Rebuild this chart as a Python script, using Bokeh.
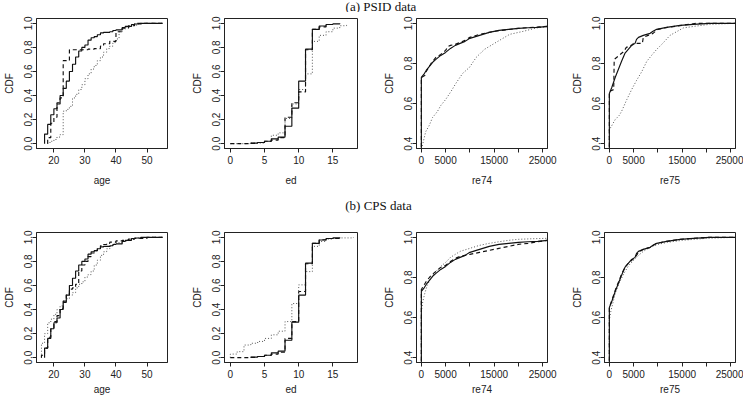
from bokeh.plotting import figure
from bokeh.layouts import column, row
from bokeh.models import FixedTicker, PrintfTickFormatter, Label, Range1d
from bokeh.embed import file_html
from bokeh.resources import INLINE

# ---------------- data (empirical CDFs read from the picture) ----------------
# age
age_trt_x = [17, 18, 19, 20, 21, 22, 23, 24, 25, 26, 27, 28, 29, 30, 31, 32, 33, 34, 35, 36, 38, 39, 40, 42, 43, 45, 46, 48, 55]
age_trt_F = [0.08, 0.16, 0.24, 0.29, 0.33, 0.40, 0.46, 0.52, 0.60, 0.66, 0.72, 0.77, 0.80, 0.82, 0.86, 0.88, 0.89, 0.905, 0.92, 0.925, 0.93, 0.94, 0.945, 0.965, 0.975, 0.99, 0.994, 1.0, 1.0]
age_psidm_x = [18, 19, 20, 21, 22, 23, 25, 31, 33, 35, 36, 38, 40, 42, 44, 46, 55]
age_psidm_F = [0.05, 0.17, 0.22, 0.34, 0.38, 0.69, 0.78, 0.785, 0.79, 0.81, 0.83, 0.85, 0.93, 0.96, 0.98, 1.0, 1.0]
age_psid_x = [18, 19, 20, 21, 22, 23, 24, 25, 26, 27, 28, 29, 30, 31, 32, 33, 34, 35, 36, 37, 38, 39, 40, 41, 42, 43, 45, 47, 49, 55]
age_psid_F = [0.01, 0.02, 0.035, 0.055, 0.075, 0.27, 0.285, 0.31, 0.38, 0.41, 0.45, 0.49, 0.54, 0.58, 0.62, 0.65, 0.69, 0.72, 0.76, 0.79, 0.81, 0.84, 0.87, 0.93, 0.95, 0.97, 0.985, 0.995, 1.0, 1.0]
age_cpsm_x = [16, 17, 18, 19, 20, 21, 22, 23, 24, 25, 26, 27, 28, 29, 30, 31, 32, 33, 34, 35, 36, 37, 38, 40, 42, 44, 46, 50, 55]
age_cpsm_F = [0.02, 0.08, 0.17, 0.24, 0.30, 0.35, 0.41, 0.47, 0.53, 0.57, 0.58, 0.61, 0.72, 0.77, 0.80, 0.84, 0.87, 0.89, 0.91, 0.93, 0.94, 0.95, 0.96, 0.97, 0.975, 0.985, 0.99, 1.0, 1.0]
age_cps_x = [16, 17, 18, 19, 20, 21, 22, 23, 24, 25, 26, 27, 28, 29, 30, 31, 32, 33, 34, 35, 36, 37, 38, 39, 40, 42, 44, 46, 49, 55]
age_cps_F = [0.12, 0.20, 0.29, 0.32, 0.36, 0.40, 0.43, 0.47, 0.49, 0.52, 0.54, 0.58, 0.61, 0.63, 0.67, 0.69, 0.72, 0.77, 0.81, 0.85, 0.88, 0.905, 0.925, 0.945, 0.955, 0.97, 0.985, 0.994, 1.0, 1.0]

# education
ed_trt_x = [3, 4, 5, 6, 7, 8, 9, 10, 11, 12, 13, 14, 15, 16]
ed_trt_F = [0.005, 0.01, 0.02, 0.04, 0.055, 0.145, 0.295, 0.52, 0.785, 0.95, 0.978, 0.99, 0.995, 1.0]
ed_psidm_x = [0, 3, 4, 5, 6, 7, 8, 9, 10, 11, 12, 13, 14, 15]
ed_psidm_F = [0.0, 0.003, 0.01, 0.02, 0.03, 0.05, 0.22, 0.34, 0.43, 0.78, 0.95, 0.97, 0.99, 1.0]
ed_psid_x = [0, 3, 5, 6, 7, 8, 9, 10, 11, 12, 13, 14, 15, 16, 17]
ed_psid_F = [0.0, 0.005, 0.02, 0.07, 0.09, 0.21, 0.33, 0.45, 0.58, 0.85, 0.90, 0.93, 0.96, 0.98, 1.0]
ed_cpsm_x = [0, 3, 4, 5, 6, 7, 8, 9, 10, 11, 12, 13, 14, 16]
ed_cpsm_F = [0.0, 0.003, 0.01, 0.02, 0.03, 0.045, 0.16, 0.30, 0.55, 0.78, 0.95, 0.98, 0.99, 1.0]
ed_cps_x = [0, 1, 2, 3, 4, 5, 6, 7, 8, 9, 10, 11, 12, 13, 14, 15, 16, 18]
ed_cps_F = [0.03, 0.05, 0.105, 0.12, 0.135, 0.16, 0.19, 0.22, 0.30, 0.45, 0.605, 0.715, 0.925, 0.965, 0.985, 0.99, 0.995, 1.0]

# earnings 1974
re74_trt_x = [0, 500, 1000, 1500, 2000, 2500, 3000, 3500, 4000, 5000, 6000, 7000, 8000, 9000, 10000, 12000, 14000, 16000, 18000, 20000, 22000, 24000, 26000]
re74_trt_F = [0.73, 0.745, 0.765, 0.78, 0.795, 0.81, 0.82, 0.83, 0.84, 0.855, 0.875, 0.89, 0.90, 0.91, 0.925, 0.94, 0.955, 0.965, 0.97, 0.975, 0.978, 0.98, 0.985]
re74_psidm_x = [0, 700, 1000, 2000, 3000, 4000, 5000, 5500, 6000, 7000, 9000, 10000, 12000, 15000, 20000, 26000]
re74_psidm_F = [0.73, 0.74, 0.76, 0.80, 0.83, 0.845, 0.865, 0.885, 0.89, 0.895, 0.915, 0.93, 0.945, 0.96, 0.975, 0.985]
re74_psid_x = [0, 300, 900, 1600, 2300, 3300, 4000, 5000, 6100, 7100, 8500, 9900, 11300, 13000, 15400, 18200, 21000, 23700, 26000]
re74_psid_F = [0.37, 0.40, 0.46, 0.49, 0.53, 0.56, 0.59, 0.62, 0.66, 0.70, 0.75, 0.78, 0.83, 0.87, 0.905, 0.945, 0.96, 0.977, 0.983]
re74_cpsm_x = [0, 500, 1000, 2000, 3000, 4000, 5000, 6000, 7000, 8000, 10000, 12000, 14000, 16000, 18000, 20000, 22000, 24000, 26000]
re74_cpsm_F = [0.74, 0.76, 0.78, 0.81, 0.83, 0.85, 0.86, 0.88, 0.895, 0.905, 0.915, 0.925, 0.935, 0.945, 0.955, 0.965, 0.97, 0.978, 0.985]
re74_cps_x = [0, 300, 700, 1200, 2000, 3000, 4000, 5000, 6000, 7000, 8000, 10000, 12000, 14000, 16000, 18000, 20000, 23000, 26000]
re74_cps_F = [0.63, 0.68, 0.72, 0.76, 0.80, 0.83, 0.855, 0.875, 0.90, 0.915, 0.93, 0.945, 0.96, 0.97, 0.978, 0.985, 0.99, 0.993, 0.995]

# earnings 1975
re75_trt_x = [0, 500, 1200, 1850, 2500, 3200, 3900, 4600, 5300, 5600, 6000, 7000, 8400, 9000, 9750, 11800, 14600, 17300, 20700, 26000]
re75_trt_F = [0.65, 0.68, 0.73, 0.77, 0.81, 0.85, 0.87, 0.89, 0.90, 0.92, 0.93, 0.94, 0.95, 0.96, 0.97, 0.98, 0.99, 0.995, 1.0, 1.0]
re75_psidm_x = [0, 900, 1000, 2000, 3000, 3500, 4500, 5000, 6800, 7000, 8000, 9000, 10000, 12000, 15000, 18000, 26000]
re75_psidm_F = [0.66, 0.67, 0.82, 0.84, 0.86, 0.88, 0.89, 0.90, 0.90, 0.93, 0.94, 0.95, 0.97, 0.98, 0.99, 1.0, 1.0]
re75_psid_x = [0, 500, 1200, 2000, 2500, 3600, 4600, 5600, 6700, 7700, 8700, 9750, 11000, 12500, 14000, 15250, 17500, 20700, 26000]
re75_psid_F = [0.47, 0.49, 0.52, 0.54, 0.56, 0.62, 0.67, 0.715, 0.76, 0.81, 0.84, 0.87, 0.90, 0.94, 0.96, 0.977, 0.985, 0.995, 1.0]
re75_cpsm_x = [0, 500, 1200, 1850, 2500, 3200, 3900, 4600, 5300, 6000, 7000, 8400, 9750, 11800, 14600, 17300, 20700, 26000]
re75_cpsm_F = [0.65, 0.685, 0.735, 0.775, 0.815, 0.85, 0.87, 0.885, 0.90, 0.925, 0.94, 0.95, 0.97, 0.98, 0.99, 0.995, 1.0, 1.0]
re75_cps_x = [0, 300, 700, 1200, 2000, 3000, 4000, 5000, 6000, 7000, 8000, 10000, 12000, 15000, 20000, 26000]
re75_cps_F = [0.59, 0.63, 0.67, 0.72, 0.77, 0.82, 0.86, 0.885, 0.91, 0.93, 0.945, 0.965, 0.975, 0.985, 0.995, 1.0]

# axes
age_ticks = [20, 30, 40, 50]
ed_ticks = [0, 5, 10, 15]
re_ticks = [0, 5000, 10000, 15000, 20000, 25000]
re_hidden = {10000: "", 20000: ""}
cdf_ticks = [0.0, 0.2, 0.4, 0.6, 0.8, 1.0]
cdf_ticks_re = [0.4, 0.6, 0.8, 1.0]

# ---------------- styling ----------------
FONT = "Liberation Sans"
INK = "#222222"
STYLES = {
    "solid": dict(line_color="#111111", line_width=1.15),
    "dashed": dict(line_color="#111111", line_width=1.15, line_dash="4 3"),
    "dotted": dict(line_color="#555555", line_width=1.0, line_dash="1 2"),
}


def panel(bl, fw, br, bt, fh, bb, xr, yr, xticks, yticks, xlabel, series,
          kind="step", overrides=None, xstand=3):
    p = figure(frame_width=fw, frame_height=fh, min_border_left=bl, min_border_right=br,
               min_border_top=bt, min_border_bottom=bb,
               x_range=Range1d(*xr), y_range=Range1d(*yr),
               output_backend="svg", toolbar_location=None)
    p.grid.visible = False
    p.background_fill_color = "white"
    p.border_fill_color = "white"
    p.outline_line_color = INK
    p.outline_line_width = 1
    p.outline_line_alpha = 1.0
    for ax in (p.xaxis[0], p.yaxis[0]):
        ax.axis_line_color = INK
        ax.major_tick_line_color = INK
        ax.minor_tick_line_color = None
        ax.major_tick_in = 0
        ax.major_tick_out = 4
        ax.major_label_text_font = FONT
        ax.major_label_text_font_size = "10px"
        ax.major_label_text_color = "#222222"
        ax.axis_label_text_font = FONT
        ax.axis_label_text_font_size = "10px"
        ax.axis_label_text_font_style = "normal"
        ax.axis_label_text_color = "#222222"
    p.xaxis[0].ticker = FixedTicker(ticks=xticks)
    p.xaxis[0].axis_label = xlabel
    p.xaxis[0].major_label_standoff = 3
    p.xaxis[0].axis_label_standoff = xstand
    if overrides:
        p.xaxis[0].major_label_overrides = overrides
    p.yaxis[0].ticker = FixedTicker(ticks=yticks)
    p.yaxis[0].formatter = PrintfTickFormatter(format="%.1f")
    p.yaxis[0].major_label_orientation = "vertical"
    p.yaxis[0].major_label_standoff = 0
    p.yaxis[0].axis_label = "CDF"
    p.yaxis[0].axis_label_standoff = 7
    for xs, Fs, style in series:
        x = [xs[0]] + list(xs)
        y = [0.0] + list(Fs)
        if kind == "step":
            p.step(x, y, mode="after", **STYLES[style])
        else:
            p.line(x, y, **STYLES[style])
    return p


def title_fig(w, h, xc, yc, text):
    t = figure(width=w, height=h, x_range=(0, 1), y_range=(0, 1), min_border=0,
               x_axis_location=None, y_axis_location=None,
               output_backend="svg", toolbar_location=None)
    t.grid.visible = False
    t.outline_line_color = None
    t.add_layout(Label(x=xc, y=yc, x_units="screen", y_units="screen", text=text,
                       text_align="center", text_baseline="middle",
                       text_font="Liberation Serif", text_font_size="13px",
                       text_color="#111111"))
    return t


AGE_R = (14.4, 56.6)
ED_R = (-0.85, 18.6)
RE_R = (-1000, 26000)
Y_R = (-0.04, 1.04)
YRE_R = (0.376, 1.024)

# row geometry: (left border, frame width, right border)
G = [(34, 131, 21), (34, 133, 23), (34, 131, 21), (34, 131, 8)]


def make_row(bt, fh, bb, xstand, age_s, ed_s, r74_s, r75_s):
    return row(
        panel(G[0][0], G[0][1], G[0][2], bt, fh, bb, AGE_R, Y_R, age_ticks, cdf_ticks, "age", age_s, xstand=xstand),
        panel(G[1][0], G[1][1], G[1][2], bt, fh, bb, ED_R, Y_R, ed_ticks, cdf_ticks, "ed", ed_s, xstand=xstand),
        panel(G[2][0], G[2][1], G[2][2], bt, fh, bb, RE_R, YRE_R, re_ticks, cdf_ticks_re, "re74", r74_s,
              kind="line", overrides=re_hidden, xstand=xstand),
        panel(G[3][0], G[3][1], G[3][2], bt, fh, bb, RE_R, YRE_R, re_ticks, cdf_ticks_re, "re75", r75_s,
              kind="line", overrides=re_hidden, xstand=xstand),
    )


row_a = make_row(6, 130, 49, 8,
                 [(age_psid_x, age_psid_F, "dotted"), (age_psidm_x, age_psidm_F, "dashed"), (age_trt_x, age_trt_F, "solid")],
                 [(ed_psid_x, ed_psid_F, "dotted"), (ed_psidm_x, ed_psidm_F, "dashed"), (ed_trt_x, ed_trt_F, "solid")],
                 [(re74_psid_x, re74_psid_F, "dotted"), (re74_psidm_x, re74_psidm_F, "dashed"), (re74_trt_x, re74_trt_F, "solid")],
                 [(re75_psid_x, re75_psid_F, "dotted"), (re75_psidm_x, re75_psidm_F, "dashed"), (re75_trt_x, re75_trt_F, "solid")])
row_b = make_row(19, 130, 34, 3,
                 [(age_cps_x, age_cps_F, "dotted"), (age_cpsm_x, age_cpsm_F, "dashed"), (age_trt_x, age_trt_F, "solid")],
                 [(ed_cps_x, ed_cps_F, "dotted"), (ed_cpsm_x, ed_cpsm_F, "dashed"), (ed_trt_x, ed_trt_F, "solid")],
                 [(re74_cps_x, re74_cps_F, "dotted"), (re74_cpsm_x, re74_cpsm_F, "dashed"), (re74_trt_x, re74_trt_F, "solid")],
                 [(re75_cps_x, re75_cps_F, "dotted"), (re75_cpsm_x, re75_cpsm_F, "dashed"), (re75_trt_x, re75_trt_F, "solid")])

title_a = title_fig(735, 12, 380.5, 6.5, "(a) PSID data")
title_b = title_fig(735, 16, 378, 8, "(b) CPS data")

layout = column(title_a, row_a, title_b, row_b, spacing=0)

open("out.html", "w").write(file_html(layout, INLINE))
